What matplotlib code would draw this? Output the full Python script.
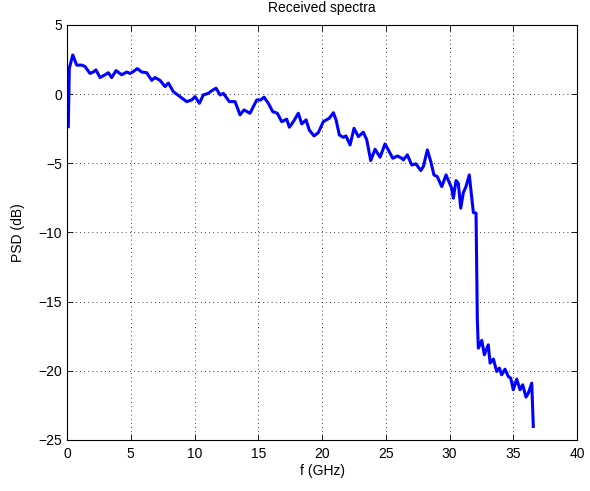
import numpy as np
import matplotlib
matplotlib.use("Agg")
import matplotlib.pyplot as plt

# frequency (GHz) and PSD (dB)
f_ghz = [0.10, 0.18, 0.45, 0.76, 1.15, 1.41, 1.80, 2.06, 2.27, 2.59, 2.98, 3.24,
         3.50, 3.84, 4.29, 4.68, 4.94, 5.15, 5.51, 5.86, 6.25, 6.64, 6.90, 7.29,
         7.69, 7.95, 8.34, 8.86, 9.39, 9.78, 10.04, 10.38, 10.69, 11.08, 11.35,
         11.69, 12.00, 12.26, 12.73, 13.18, 13.57, 13.88, 14.35, 14.88, 15.19,
         15.45, 15.79, 16.13, 16.49, 16.84, 17.23, 17.44, 17.75, 18.14, 18.41,
         18.75, 19.00, 19.37, 19.71, 20.10, 20.57, 20.89, 21.10, 21.36, 21.67,
         21.88, 22.20, 22.51, 22.85, 23.24, 23.51, 23.82, 24.16, 24.55, 24.94,
         25.20, 25.55, 25.91, 26.25, 26.38, 26.69, 27.04, 27.37, 27.74, 27.95,
         28.26, 28.53, 28.78, 29.04, 29.39, 29.73, 30.17, 30.30, 30.51, 30.69,
         30.88, 31.08, 31.29, 31.55, 31.87, 32.08, 32.18, 32.26, 32.53, 32.73,
         33.04, 33.18, 33.44, 33.70, 33.91, 34.09, 34.35, 34.61, 34.80, 35.00,
         35.27, 35.53, 35.74, 36.00, 36.18, 36.45, 36.57]
psd_db = [-2.35, 1.87, 2.83, 2.10, 2.10, 2.00, 1.50, 1.60, 1.75, 1.20, 1.40, 1.55,
          1.20, 1.70, 1.40, 1.60, 1.50, 1.60, 1.85, 1.60, 1.55, 1.00, 1.20, 1.00,
          0.55, 0.80, 0.18, -0.18, -0.54, -0.42, -0.18, -0.66, -0.06, 0.06, 0.25,
          0.43, -0.06, 0.06, -0.54, -0.54, -1.50, -1.14, -1.38, -0.42, -0.42,
          -0.22, -0.66, -1.26, -1.38, -1.99, -1.81, -2.39, -1.99, -1.38, -2.15,
          -1.86, -2.59, -3.02, -2.78, -1.99, -1.74, -1.34, -1.86, -2.95, -3.12,
          -3.02, -3.67, -2.47, -3.07, -2.75, -3.31, -4.80, -3.98, -4.56, -3.60,
          -4.03, -4.63, -4.47, -4.63, -4.75, -4.39, -5.12, -5.04, -5.52, -5.23,
          -4.03, -4.87, -5.84, -5.96, -6.68, -5.84, -6.80, -7.52, -6.25, -6.44,
          -8.24, -7.13, -6.68, -5.84, -8.56, -8.60, -16.30, -18.36, -17.80, -18.84,
          -18.12, -19.44, -19.15, -20.05, -19.80, -20.29, -19.88, -20.41, -20.53,
          -21.37, -20.60, -21.37, -21.01, -21.90, -21.61, -20.89, -24.02]

plt.rcParams['font.family'] = ['Liberation Sans', 'DejaVu Sans']
plt.rcParams['font.size'] = 10

fig = plt.figure(figsize=(5.9, 4.91), dpi=100)
ax = fig.add_axes([0.1136, 0.1039, 0.8644, 0.8452])

ax.plot(f_ghz, psd_db, color=(0, 0, 1), linewidth=2.2)

ax.set_xlim(0, 40)
ax.set_ylim(-25, 5)
ax.set_xticks(np.arange(0, 41, 5))
ax.set_yticks(np.arange(-25, 6, 5))
ax.grid(True, color='black', linestyle=(0, (1, 4)), linewidth=0.6)
ax.tick_params(direction='in', top=True, right=True, length=4, width=0.6)
ax.tick_params(axis='x', pad=5)
for s in ax.spines.values():
    s.set_linewidth(0.8)

ax.set_xlabel('f (GHz)', labelpad=2)
ax.set_ylabel('PSD (dB)', labelpad=10)
ax.set_title('Received spectra', fontsize=10, pad=9)

fig.savefig('out.png', dpi=100)
